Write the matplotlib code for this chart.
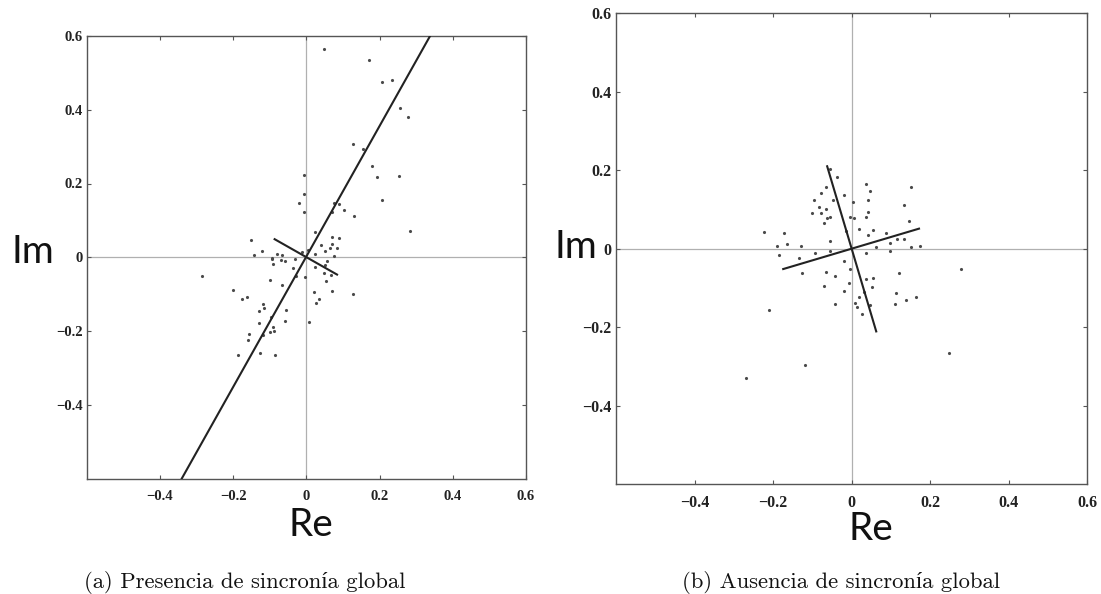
import matplotlib
matplotlib.use("Agg")
import matplotlib.pyplot as plt
from matplotlib.ticker import FixedLocator, FuncFormatter

# panel (a): presencia de sincronia global
re_a = [0.049, 0.172, 0.208, 0.234, 0.256, 0.277, 0.128, 0.156, 0.179, 0.192, 0.254, -0.005,
        0.208, 0.283, -0.005, -0.019, -0.005, 0.077, 0.088, 0.104, 0.130, 0.023, 0.070,
        -0.151, -0.121, -0.144, -0.081, -0.065, -0.094, -0.069, -0.057, -0.090, -0.030, -0.035,
        -0.012, 0.006, 0.025, 0.070, 0.088, 0.040, 0.070, 0.052, 0.065, 0.085, 0.076, 0.056,
        0.025, 0.047, 0.054, 0.067, 0.052, -0.099, -0.066, -0.028, -0.003, -0.285,
        -0.201, -0.175, -0.162, -0.119, -0.115, -0.128, -0.055, -0.096, -0.057, -0.128, -0.090,
        0.020, 0.035, 0.026, 0.070, 0.128, 0.008, -0.087, -0.157, -0.159, -0.119, -0.098,
        -0.187, -0.126, -0.085, -0.094]
im_a = [0.564, 0.535, 0.475, 0.481, 0.404, 0.381, 0.306, 0.293, 0.247, 0.218, 0.220, 0.223,
        0.155, 0.071, 0.171, 0.147, 0.123, 0.148, 0.144, 0.128, 0.113, 0.068, 0.123,
        0.048, 0.017, 0.006, 0.010, 0.005, -0.006, -0.008, -0.010, -0.019, -0.006, -0.028,
        0.014, 0.019, 0.010, 0.055, 0.051, 0.033, 0.037, 0.016, 0.024, 0.024, 0.003, -0.011,
        -0.026, -0.044, -0.064, -0.049, -0.022, -0.061, -0.076, -0.052, -0.053, -0.052,
        -0.090, -0.112, -0.108, -0.128, -0.137, -0.146, -0.142, -0.162, -0.173, -0.179, -0.188,
        -0.094, -0.112, -0.124, -0.092, -0.099, -0.176, -0.200, -0.207, -0.224, -0.212, -0.203,
        -0.264, -0.260, -0.266, -0.003]
axis1_a = ([-0.340, 0.338], [-0.600, 0.600])
axis2_a = ([-0.0865, 0.084], [0.049, -0.047])

# panel (b): ausencia de sincronia global
re_b = [-0.056, -0.037, 0.037, 0.152, -0.066, -0.077, -0.020, 0.048, -0.096, -0.046, 0.005,
        0.042, 0.133, -0.083, -0.065, -0.100, -0.077, 0.043, -0.062, -0.054, 0.036, -0.005,
        0.007, -0.069, 0.146, 0.020, 0.056, 0.042, 0.088, -0.014, -0.224, -0.171, -0.164,
        -0.191, -0.128, -0.056, -0.185, -0.094, -0.056, 0.063, 0.097, 0.116, 0.135, 0.097,
        0.152, 0.175, 0.036, -0.134, -0.018, -0.003, -0.126, -0.066, 0.121, -0.041, 0.036,
        0.054, -0.007, -0.071, 0.053, -0.020, 0.033, 0.114, 0.165, 0.020, 0.140, -0.043,
        0.010, 0.014, 0.046, 0.110, 0.027, -0.209, -0.119, -0.270, 0.249, 0.280]
im_b = [0.203, 0.183, 0.166, 0.156, 0.158, 0.143, 0.137, 0.146, 0.125, 0.124, 0.118,
        0.124, 0.112, 0.105, 0.100, 0.092, 0.092, 0.094, 0.079, 0.081, 0.081, 0.081,
        0.077, 0.065, 0.070, 0.049, 0.047, 0.036, 0.041, 0.045, 0.042, 0.039, 0.013,
        0.008, 0.008, 0.019, -0.015, -0.011, -0.005, 0.004, 0.015, 0.024, 0.024, -0.005,
        0.004, 0.006, -0.011, -0.025, -0.032, -0.053, -0.062, -0.060, -0.062, -0.071, -0.077,
        -0.075, -0.088, -0.094, -0.099, -0.109, -0.111, -0.113, -0.122, -0.122, -0.130, -0.141,
        -0.139, -0.150, -0.143, -0.141, -0.167, -0.156, -0.297, -0.330, -0.265, -0.053]
axis1_b = ([-0.062, 0.063], [0.210, -0.211])
axis2_b = ([-0.174, 0.172], [-0.052, 0.051])

ticks = [-0.4, -0.2, 0, 0.2, 0.4, 0.6]
captions = ["(a) Presencia de sincronía global", "(b) Ausencia de sincronía global"]

W, H = 1101, 594
fig = plt.figure(figsize=(W / 100, H / 100), dpi=100)


def fmt(v, _):
    if abs(v) < 1e-9:
        return "0"
    return ("%.1f" % v).replace("-", "\u2212")


def panel(rect, re, im, ax1, ax2, lsize):
    ax = fig.add_axes(rect)
    ax.set_xlim(-0.6, 0.6)
    ax.set_ylim(-0.6, 0.6)
    ax.axhline(0, color="#b0b0b0", lw=0.9, zorder=1)
    ax.axvline(0, color="#b0b0b0", lw=0.9, zorder=1)
    ax.plot(re, im, ".", ms=2.5, color="#4a4a4a", zorder=2)
    ax.plot(ax1[0], ax1[1], color="#222222", lw=1.5, zorder=3)
    ax.plot(ax2[0], ax2[1], color="#222222", lw=1.5, zorder=3)
    ax.xaxis.set_major_locator(FixedLocator(ticks))
    ax.yaxis.set_major_locator(FixedLocator(ticks))
    ax.xaxis.set_major_formatter(FuncFormatter(fmt))
    ax.yaxis.set_major_formatter(FuncFormatter(fmt))
    ax.tick_params(direction="in", length=3, width=0.8, top=True, right=True,
                   color="#555555", labelsize=lsize)
    ax.tick_params(axis="x", pad=8)
    ax.tick_params(axis="y", pad=3)
    for lab in ax.get_xticklabels() + ax.get_yticklabels():
        lab.set_family("Liberation Serif")
        lab.set_weight("bold")
        lab.set_color("#222222")
    for s in ax.spines.values():
        s.set_color("#555555")
        s.set_linewidth(1.0)
    return ax


def fx(px):
    return px / W


def fy(py):
    return 1 - py / H


panel([fx(86.6), fy(478.5), fx(526) - fx(86.6), fy(36) - fy(478.5)],
      re_a, im_a, axis1_a, axis2_a, 10.5)
panel([fx(616), fy(484), fx(1087) - fx(616), fy(13.3) - fy(484)],
      re_b, im_b, axis1_b, axis2_b, 11.5)

lab_font = dict(family="Lato", size=28, color="#111111", ha="center", va="center")
fig.text(fx(33), fy(252), "Im", **lab_font)
fig.text(fx(311), fy(525), "Re", **lab_font)
fig.text(fx(576), fy(247), "Im", **lab_font)
fig.text(fx(871), fy(529), "Re", **lab_font)

cap_font = dict(family=["cmr10", "Liberation Serif"], size=16.3, color="#111111",
                ha="center", va="center")
fig.text(fx(245), fy(582), captions[0], **cap_font)
fig.text(fx(841), fy(583), captions[1], **cap_font)

fig.savefig("out.png", dpi=100)
